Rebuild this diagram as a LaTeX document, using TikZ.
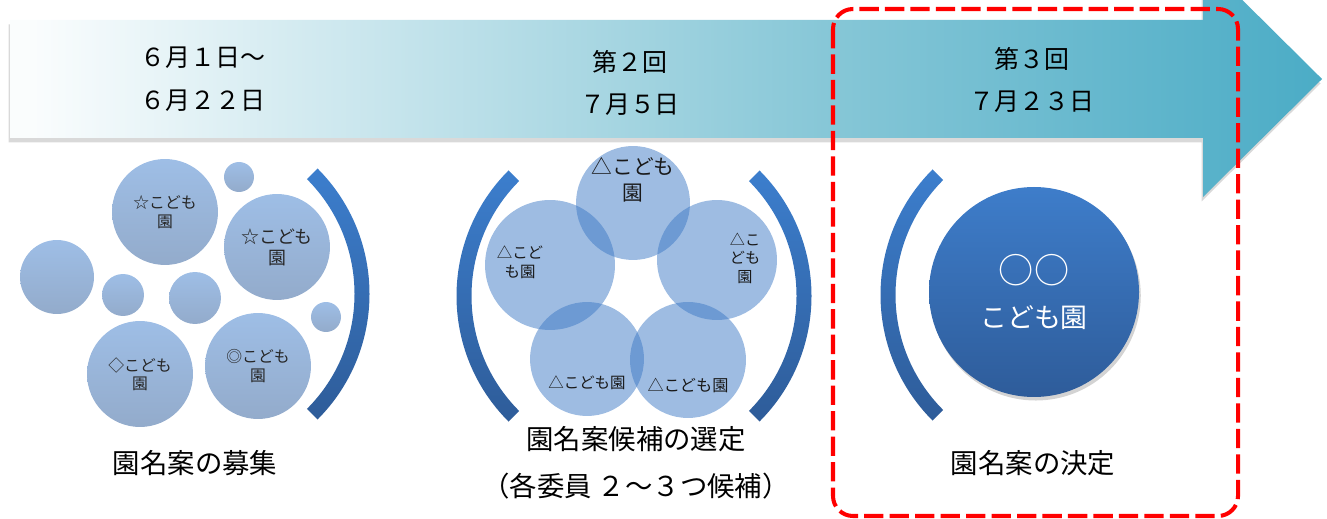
\documentclass[tikz,border=0pt]{standalone}
\usepackage{fontspec}
\setmainfont{Noto Sans CJK JP}
\usepackage{xcolor}
\usepackage{tikz}
\usetikzlibrary{positioning, shadows}

\definecolor{arrowmid}{HTML}{87C7D7}
\definecolor{arrowend}{HTML}{4BACC6}
\definecolor{bubtop}{HTML}{9EBEE6}
\definecolor{bubbot}{HTML}{93ABCB}
\definecolor{candblue}{HTML}{3D79C5}
\definecolor{brackettop}{HTML}{3C7ECD}
\definecolor{bracketbot}{HTML}{2E5C99}
\definecolor{maintop}{HTML}{3E7DCA}
\definecolor{mainbot}{HTML}{2E5C9A}
\definecolor{framered}{HTML}{FF0000}

\pgfdeclarehorizontalshading{timeline}{100bp}{color(0bp)=(white); color(26bp)=(white!97!arrowend); color(56bp)=(arrowmid); color(75bp)=(arrowend); color(100bp)=(arrowend)}

\tikzset{
  bubble/.style={circle, inner sep=0pt, minimum size=#1*0.04cm, top color=bubtop, bottom color=bubbot, align=center, text=black!85},
  candidate/.style={circle, inner sep=0pt, minimum size=#1*0.04cm, fill=candblue, fill opacity=0.5},
  candname/.style={align=center, text=black!90},
  bracket/.style={top color=brackettop, bottom color=bracketbot},
  datetext/.style={font=\fontsize{14.2}{24.4}\selectfont, align=center},
  steptext/.style={font=\fontsize{15.6}{26.6}\selectfont, align=center},
  redframe/.style={draw=framered, line width=2.3pt, dash pattern=on 11pt off 3.5pt, rounded corners=0.4cm},
}

\begin{document}
\begin{tikzpicture}[x=0.02cm, y=0.02cm]
  \useasboundingbox (0,0) rectangle (1327,-519);
  \clip (0,0) rectangle (1327,-519);
  \def\rin{162.5}
  \def\rout{177.5}
  \def\wid{15}

  % timeline arrow
  \shade[shading=timeline, drop shadow={opacity=0.3, shadow xshift=-0.8pt, shadow yshift=-2.5pt}]
    (10,-20) -- (1203,-20) -- (1203,39) -- (1322,-79) -- (1203,-197) -- (1203,-138) -- (10,-138) -- cycle;

  \node[datetext] (date1) at (203,-79) {６月１日～\\６月２２日};
  \node[datetext] (date2) at (630,-83) {第２回\\７月５日};
  \node[datetext] (date3) at (1032,-80) {第３回\\７月２３日};

  % recruiting
  \node[bubble=53, font=\fontsize{9}{10.8}\selectfont] (starA) at (165,-212) {☆こども\\園};
  \node[bubble=15] (dotA) at (239,-177) {};
  \node[bubble=53, font=\fontsize{10.2}{12}\selectfont] (starB) at (277,-247) {☆こども\\園};
  \node[bubble=37] (plainA) at (57,-277) {};
  \node[bubble=21] (plainB) at (123,-295) {};
  \node[bubble=26] (plainC) at (195,-298) {};
  \node[bubble=15] (dotB) at (326,-317) {};
  \node[bubble=53, font=\fontsize{9}{10.3}\selectfont] (diaA) at (140,-374) {◇こども\\園};
  \node[bubble=53, font=\fontsize{9}{10.6}\selectfont] (dblA) at (258,-366) {◎こども\\園};

  \coordinate (C1) at (192,-294);
  \shade[bracket] (C1) ++(-45:\rin) arc[start angle=-45, end angle=45, radius=\rin]
    -- ++(45:\wid) arc[start angle=45, end angle=-45, radius=\rout] -- cycle;

  \node[steptext] (recruit) at (195,-463) {園名案の募集};

  % selecting
  \node[candidate=57] (candTop) at (633,-203) {};
  \node[candidate=65] (candLeft) at (550,-265) {};
  \node[candidate=60] (candRight) at (717,-260) {};
  \node[candidate=57] (candBL) at (587,-359) {};
  \node[candidate=58] (candBR) at (688,-360) {};

  \node[candname, font=\fontsize{11.8}{14.7}\selectfont] (nameTop) at (633,-180) {△こども\\園};
  \node[candname, font=\fontsize{8.8}{10.8}\selectfont] (nameLeft) at (520,-262) {△こど\\も園};
  \node[candname, font=\fontsize{8.6}{10.5}\selectfont] (nameRight) at (745,-258) {△こ\\ども\\園};
  \node[candname, font=\fontsize{8.8}{10}\selectfont] (nameBL) at (587,-383) {△こども園};
  \node[candname, font=\fontsize{9.2}{10}\selectfont] (nameBR) at (688,-385) {△こども園};

  \coordinate (C2) at (634,-296);
  \shade[bracket] (C2) ++(135:\rin) arc[start angle=135, end angle=225, radius=\rin]
    -- ++(225:\wid) arc[start angle=225, end angle=135, radius=\rout] -- cycle;
  \shade[bracket] (C2) ++(-45:\rin) arc[start angle=-45, end angle=45, radius=\rin]
    -- ++(45:\wid) arc[start angle=45, end angle=-45, radius=\rout] -- cycle;

  \node[steptext] (select) at (636,-463) {園名案候補の選定\\（各委員 ２～３つ候補）};

  % decision
  \node[circle, inner sep=0pt, minimum size=210*0.02cm, top color=maintop, bottom color=mainbot,
    drop shadow={opacity=0.35, shadow xshift=1pt, shadow yshift=-2pt},
    text=white, align=center, font=\fontsize{15.3}{25}\selectfont] (final) at (1034,-292)
    {{\fontsize{20}{25}\selectfont ○○}\\こども園};

  \coordinate (C3) at (1058,-295);
  \shade[bracket] (C3) ++(135:\rin) arc[start angle=135, end angle=225, radius=\rin]
    -- ++(225:\wid) arc[start angle=225, end angle=135, radius=\rout] -- cycle;

  \node[steptext] (decide) at (1033,-463) {園名案の決定};

  \draw[redframe] (833,-9) rectangle (1238,-516);
\end{tikzpicture}
\end{document}
